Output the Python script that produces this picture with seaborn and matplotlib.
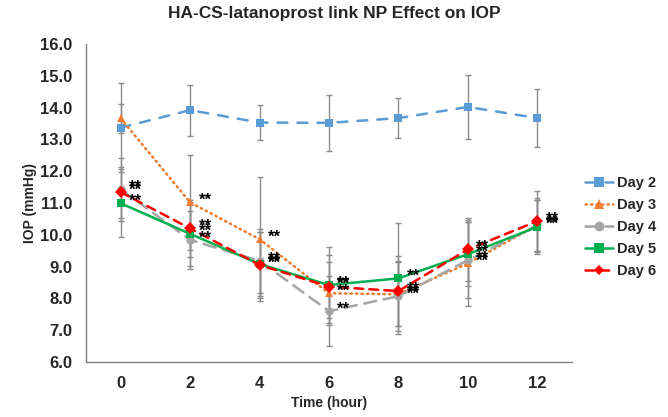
import numpy as np
import pandas as pd
import matplotlib
matplotlib.use("Agg")
import matplotlib.pyplot as plt
import seaborn as sns

# time points (hour)
hours = [0, 2, 4, 6, 8, 10, 12]

# mean IOP per day (mmHg)
day2 = [13.37, 13.92, 13.53, 13.52, 13.67, 14.02, 13.67]
day3 = [13.66, 11.02, 9.86, 8.16, 8.13, 9.10, 10.30]
day4 = [11.43, 9.84, 9.18, 7.60, 8.07, 9.20, 10.30]
day5 = [10.99, 10.03, 9.08, 8.42, 8.63, 9.39, 10.25]
day6 = [11.34, 10.20, 9.05, 8.37, 8.23, 9.54, 10.43]

# standard deviations
err2 = [1.40, 0.80, 0.55, 0.87, 0.63, 1.00, 0.90]
err3 = [0.45, 1.50, 1.95, 1.00, 1.00, 1.35, 0.80]
err4 = [1.00, 0.90, 1.00, 1.10, 1.10, 1.20, 0.85]
err5 = [1.07, 1.00, 1.00, 1.20, 1.75, 1.00, 0.85]
err6 = [0.80, 0.90, 1.05, 1.00, 1.10, 1.00, 0.95]

# significance marks ("**" next to point)
stars2 = [False] * 7
stars3 = [False, True, True, True, True, True, True]
stars4 = [True] * 7
stars5 = [True] * 7
stars6 = [True] * 7

days = ["Day 2", "Day 3", "Day 4", "Day 5", "Day 6"]
means = [day2, day3, day4, day5, day6]
errs = [err2, err3, err4, err5, err6]
stars = [stars2, stars3, stars4, stars5, stars6]

df = pd.DataFrame({
    "Time": hours * len(days),
    "IOP": np.concatenate(means),
    "Day": np.repeat(days, len(hours)),
})

sns.set_style("white")
plt.rcParams["font.family"] = ["Liberation Sans", "DejaVu Sans"]
plt.rcParams["font.weight"] = "bold"
plt.rcParams["lines.dash_capstyle"] = "round"

palette = {"Day 2": "#5B9BD5", "Day 3": "#ED7D31", "Day 4": "#A5A5A5",
           "Day 5": "#00B050", "Day 6": "#FF0000"}
dashes = {"Day 2": (4, 4), "Day 3": (0.6, 1.6), "Day 4": (5, 3),
          "Day 5": "", "Day 6": (3.5, 2.5)}
markers = {"Day 2": "s", "Day 3": "^", "Day 4": "o", "Day 5": "s", "Day 6": "D"}
msizes = {"Day 2": 7, "Day 3": 7, "Day 4": 7, "Day 5": 7, "Day 6": 5}

fig, ax = plt.subplots(figsize=(6.68, 4.17), dpi=100)
fig.subplots_adjust(left=0.1287, right=0.8563, top=0.8945, bottom=0.1319)

for d, m, e in zip(days, means, errs):
    ax.errorbar(hours, m, yerr=e, fmt="none", ecolor="#8C8C8C",
                elinewidth=1, capsize=2.5, capthick=1, zorder=1)

sns.lineplot(data=df, x="Time", y="IOP", hue="Day", style="Day",
             palette=palette, dashes=dashes, markers=markers,
             linewidth=1.8, markeredgewidth=0, ax=ax, zorder=3)

for line, d in zip(ax.get_lines()[-len(days):], days):
    line.set_markersize(msizes[d])
    line.set_markeredgecolor(palette[d])

for m, s in zip(means, stars):
    for x, y, flag in zip(hours, m, s):
        if flag:
            ax.annotate("**", (x, y), xytext=(6, 1.5), textcoords="offset points",
                        ha="left", va="center", fontsize=12, fontweight="bold",
                        color="black", zorder=4)

ax.set_xlim(-1, 13)
ax.set_ylim(6, 16)
ax.set_xticks(range(-1, 14))
ax.set_xticklabels([str(h) if h in hours else "" for h in range(-1, 14)])
ax.set_yticks(np.arange(6, 16.5, 1))
ax.set_yticklabels([f"{v:.1f}" for v in np.arange(6, 16.5, 1)])
ax.tick_params(axis="both", direction="out", length=4, width=1,
               color="#808080", labelsize=12, pad=6)
for lab in ax.get_xticklabels() + ax.get_yticklabels():
    lab.set_fontweight("bold")

for side in ["top", "right"]:
    ax.spines[side].set_visible(False)
for side in ["left", "bottom"]:
    ax.spines[side].set_color("#808080")
    ax.spines[side].set_linewidth(1)

ax.set_xlabel("Time (hour)", fontsize=10, fontweight="bold", labelpad=4)
ax.set_ylabel("IOP (mmHg)", fontsize=10, fontweight="bold", labelpad=2)
fig.suptitle("HA-CS-latanoprost link NP Effect on IOP", x=0.5, y=0.985,
             fontsize=12.5, fontweight="bold")

handles, labels = ax.get_legend_handles_labels()
ax.legend(handles, labels, loc="center left", bbox_to_anchor=(1.0, 0.425),
          frameon=False, handlelength=1.9, labelspacing=0.55,
          handletextpad=0.3, prop={"weight": "bold", "size": 10.5})

fig.savefig("out.png", dpi=100)
